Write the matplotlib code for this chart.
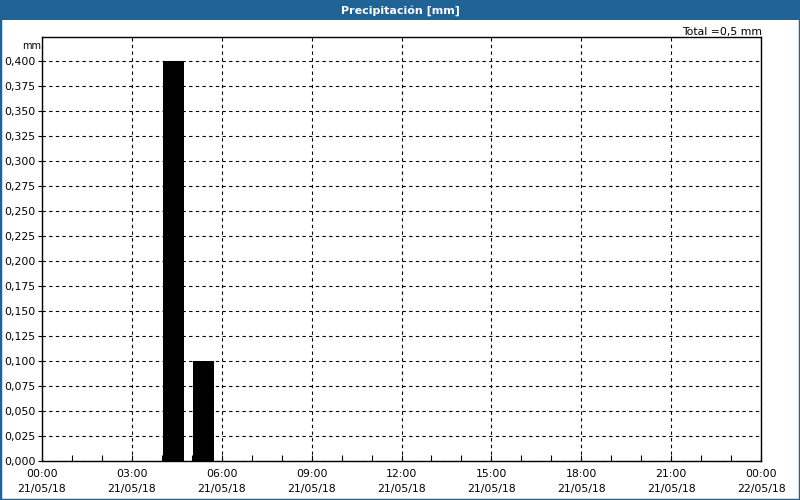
import matplotlib
matplotlib.use("Agg")
import matplotlib.pyplot as plt
from matplotlib.patches import Rectangle
import numpy as np

# Data
bar_hours = [4, 5]            # hour slot start (21/05/18)
bar_values = [0.400, 0.100]   # mm
x_tick_hours = [0, 3, 6, 9, 12, 15, 18, 21, 24]
x_tick_labels = ["00:00\n21/05/18", "03:00\n21/05/18", "06:00\n21/05/18",
                 "09:00\n21/05/18", "12:00\n21/05/18", "15:00\n21/05/18",
                 "18:00\n21/05/18", "21:00\n21/05/18", "00:00\n22/05/18"]
y_ticks = [i * 0.025 for i in range(17)]
title = "Precipitación [mm]"
total_text = "Total =0,5 mm"

W, H = 800, 500
fig = plt.figure(figsize=(8, 5), dpi=100)
fig.patch.set_facecolor("white")
font = "DejaVu Sans"
fs = 7.8

# title bar
blue = "#1f6397"
fig.add_artist(Rectangle((0, 1 - 20 / H), 1, 20 / H, transform=fig.transFigure,
                         facecolor=blue, edgecolor="none"))
fig.text(0.5, 1 - 10.5 / H, title, color="white", fontsize=8, fontweight="bold",
         ha="center", va="center", family=font)
# outer border
fig.add_artist(Rectangle((0, 0), 1, 1, transform=fig.transFigure, fill=False,
                         edgecolor=blue, linewidth=2.5))

left, right, top, bottom = 42, 761, 37, 461
ax = fig.add_axes([left / W, 1 - bottom / H, (right - left) / W, (bottom - top) / H])
ax.set_facecolor("white")

ax.bar([h + 0.05 for h in bar_hours], bar_values, width=0.68, align="edge",
       color="black", edgecolor="black", linewidth=0, zorder=3)

ax.set_xlim(0, 24)
ax.set_ylim(0, 0.4 + 24 / ((461 - 60) / 16) * 0.025)

ax.set_xticks(x_tick_hours)
ax.set_xticklabels(x_tick_labels, fontsize=fs, family=font, linespacing=1.55)
ax.set_xticks(range(0, 25), minor=True)
ax.set_yticks(y_ticks)
ax.set_yticklabels([f"{v:.3f}".replace(".", ",") for v in y_ticks], fontsize=fs, family=font)

ax.tick_params(axis="x", which="both", direction="in", length=4, width=0.8, pad=6,
               top=False)
ax.tick_params(axis="y", which="both", direction="out", length=3, width=0.8, pad=1.5)

for s in ax.spines.values():
    s.set_color("black")
    s.set_linewidth(1)

ax.grid(True, which="major", color="black", linestyle=(0, (3, 3)), linewidth=0.8, zorder=1)

fig.text(22 / W, 1 - 46 / H, "mm", fontsize=7, family=font, ha="left", va="center")
fig.text(762 / W, 1 - 32 / H, total_text, fontsize=fs, family=font, ha="right", va="center")

fig.savefig("out.png", dpi=100, facecolor=fig.get_facecolor())
